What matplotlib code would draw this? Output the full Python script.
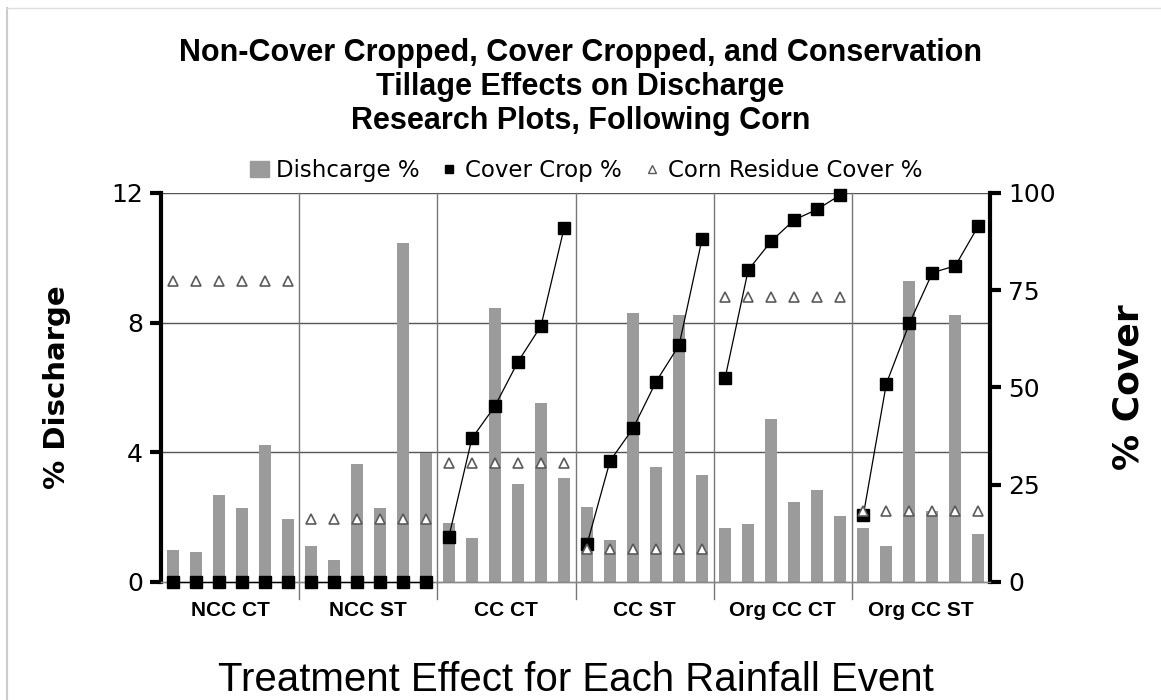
import numpy as np
import matplotlib
matplotlib.use("Agg")
import matplotlib.pyplot as plt
from matplotlib.patches import Patch
from matplotlib.lines import Line2D

groups = ["NCC CT", "NCC ST", "CC CT", "CC ST", "Org CC CT", "Org CC ST"]

# % discharge per rainfall event (left axis)
discharge_ncc_ct = [1.00, 0.93, 2.68, 2.29, 4.22, 1.93]
discharge_ncc_st = [1.10, 0.67, 3.63, 2.29, 10.45, 3.97]
discharge_cc_ct = [1.83, 1.36, 8.45, 3.02, 5.53, 3.21]
discharge_cc_st = [2.30, 1.31, 8.31, 3.55, 8.24, 3.30]
discharge_org_ct = [1.65, 1.80, 5.02, 2.47, 2.83, 2.04]
discharge_org_st = [1.65, 1.10, 9.30, 2.20, 8.24, 1.49]

# % cover crop (right axis)
cover_ncc_ct = [0, 0, 0, 0, 0, 0]
cover_ncc_st = [0, 0, 0, 0, 0, 0]
cover_cc_ct = [11.6, 36.9, 45.2, 56.6, 65.8, 90.9]
cover_cc_st = [9.7, 31.1, 39.5, 51.5, 60.9, 88.3]
cover_org_ct = [52.5, 80.2, 87.6, 93.1, 95.8, 99.5]
cover_org_st = [17.2, 51.0, 66.5, 79.5, 81.3, 91.6]

# % corn residue cover (right axis)
residue = [77.4, 16.3, 30.5, 8.6, 73.3, 18.3]

discharge = [discharge_ncc_ct, discharge_ncc_st, discharge_cc_ct,
             discharge_cc_st, discharge_org_ct, discharge_org_st]
cover = [cover_ncc_ct, cover_ncc_st, cover_cc_ct,
         cover_cc_st, cover_org_ct, cover_org_st]

arial = ["Liberation Sans", "DejaVu Sans"]
n = 6

fig = plt.figure(figsize=(11.61, 7.0), dpi=100)
ax = fig.add_axes([0.1387, 0.1686, 0.7140, 0.5557])
ax2 = ax.twinx()

for g in range(len(groups)):
  x = np.arange(n) + g * n
  ax.bar(x, discharge[g], width=0.52, color="#9b9b9b", zorder=2)
  ax2.plot(x, cover[g], color="black", lw=0.9, marker="s", ms=9,
           mfc="black", mec="black", clip_on=False, zorder=4)
  ax2.plot(x, [residue[g]] * n, ls="none", marker="^", ms=7,
           mfc="white", mec="#5a5a5a", mew=1.2, clip_on=False, zorder=5)

ax.set_xlim(-0.5, n * len(groups) - 0.5)
ax.set_ylim(0, 12)
ax2.set_ylim(0, 100)
ax.set_yticks([0, 4, 8, 12])
ax2.set_yticks([0, 25, 50, 75, 100])

for yv in [4, 8, 12]:
  ax.axhline(yv, color="#555555", lw=1, zorder=1)
for g in range(1, len(groups)):
  ax.axvline(g * n - 0.5, ymin=-0.045, ymax=1, color="#777777", lw=1,
             clip_on=False, zorder=1)

centers = [g * n + (n - 1) / 2 for g in range(len(groups))]
ax.set_xticks(centers)
ax.set_xticklabels(groups, fontsize=15, fontweight="bold", family=arial)
ax.tick_params(axis="x", length=0, pad=14)

for a in (ax, ax2):
  a.spines["top"].set_visible(False)
  a.spines["bottom"].set_color("#888888")
  a.spines["bottom"].set_linewidth(1)
ax.spines["left"].set_linewidth(3)
ax.spines["right"].set_visible(False)
ax2.spines["left"].set_visible(False)
ax2.spines["right"].set_linewidth(3)
ax.tick_params(axis="y", direction="out", length=8, width=3, labelsize=18, pad=5)
ax2.tick_params(axis="y", direction="out", length=8, width=3, labelsize=18, pad=5)

ax.set_ylabel("% Discharge", fontsize=21, fontweight="bold", labelpad=29)
ax2.set_ylabel("% Cover", fontsize=26, fontweight="bold", labelpad=40)
ax.set_xlabel("Treatment Effect for Each Rainfall Event", fontsize=29,
              family=arial, labelpad=29)

fig.text(0.5, 0.876, "Non-Cover Cropped, Cover Cropped, and Conservation\n"
         "Tillage Effects on Discharge\nResearch Plots, Following Corn",
         ha="center", va="center", fontsize=22, fontweight="bold",
         family=arial, linespacing=1.17)

handles = [Patch(color="#9b9b9b"),
           Line2D([], [], ls="none", marker="s", ms=6, color="black"),
           Line2D([], [], ls="none", marker="^", ms=6, mfc="white",
                  mec="#5a5a5a")]
labels = ["Dishcarge %", "Cover Crop %", "Corn Residue Cover %"]
fig.legend(handles, labels, loc="center", bbox_to_anchor=(0.505, 0.757),
           ncol=3, frameon=False, fontsize=16.5, handlelength=0.8,
           handletextpad=0.3, columnspacing=0.9)

# thin frame lines of the original picture
fig.add_artist(Line2D([0.006, 0.006], [0, 0.988], color="#cccccc", lw=1.5))
fig.add_artist(Line2D([0.006, 1], [0.988, 0.988], color="#dddddd", lw=1))

plt.savefig("out.png", dpi=100)
